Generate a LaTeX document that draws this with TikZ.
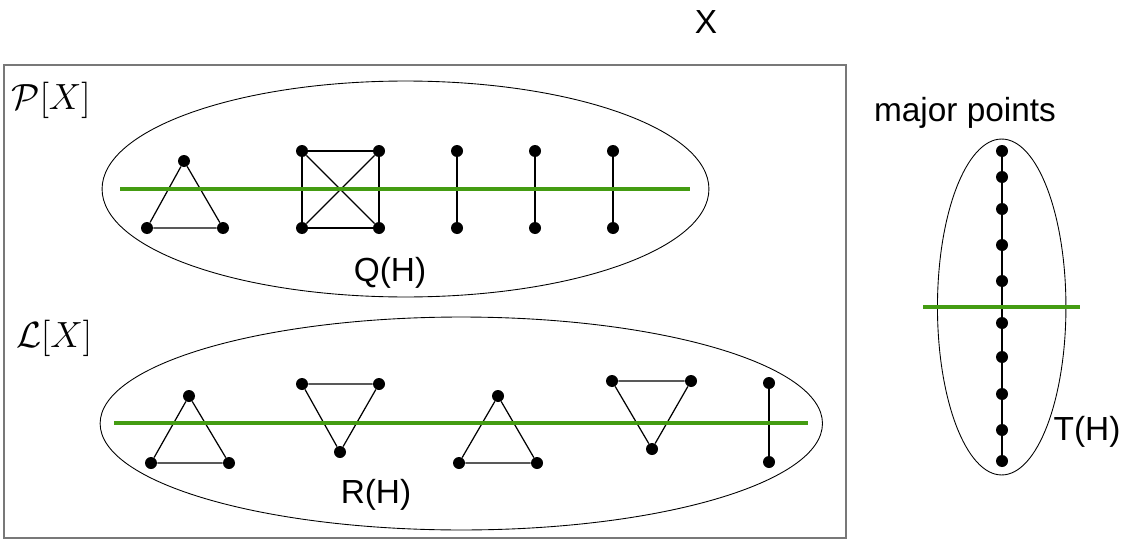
\documentclass[tikz,border=0pt]{standalone}
\usepackage{amsmath}
\usepackage{fontspec}
\setmainfont{Liberation Sans}
\usepackage{tikz}
\usetikzlibrary{positioning, shapes.geometric}
\definecolor{cutgreen}{RGB}{68,156,18}
\definecolor{framegray}{RGB}{120,120,120}

\begin{document}
\begin{tikzpicture}[
    x=0.02cm, y=-0.02cm,
    vtx/.style={circle, fill=black, inner sep=0pt, minimum size=0.24cm},
    link/.style={line width=0.7pt},
    cut/.style={cutgreen, line width=1.8pt},
    region/.style={ellipse, draw, line width=0.5pt, inner sep=0pt},
    lbl/.style={font=\fontsize{19}{22}\selectfont},
    mlbl/.style={font=\fontsize{21}{24}\selectfont}
]
    \useasboundingbox (0,0) rectangle (1126,541);
    \draw[framegray, line width=0.8pt] (4,65) rectangle (846,538);
    \node[lbl] (xlabel) at (706,22) {X};
    \node[mlbl] (plabel) at (51,100) {$\mathcal{P}[X]$};
    \node[mlbl] (llabel) at (54,338) {$\mathcal{L}[X]$};
    \node[region, minimum width=12.14cm, minimum height=4.32cm] (qset) at (405.5,189) {};
    \node[region, minimum width=14.45cm, minimum height=4.26cm] (rset) at (461.3,423.5) {};
    \node[region, minimum width=2.57cm, minimum height=6.72cm] (tset) at (1001.7,307) {};
    \node[lbl] (qlabel) at (390,273) {Q(H)};
    \node[lbl] (rlabel) at (376,495) {R(H)};
    \node[lbl] (tlabel) at (1087,432) {T(H)};
    \node[lbl] (major) at (965,113) {major points};
    \node[vtx] (a1) at (184,161) {};
    \node[vtx] (a2) at (147,228) {};
    \node[vtx] (a3) at (223,228) {};
    \node[vtx] (b1) at (302,151) {};
    \node[vtx] (b2) at (379,151) {};
    \node[vtx] (b3) at (302,228) {};
    \node[vtx] (b4) at (379,228) {};
    \node[vtx] (c1) at (457,151) {};
    \node[vtx] (c2) at (457,228) {};
    \node[vtx] (d1) at (535,151) {};
    \node[vtx] (d2) at (535,228) {};
    \node[vtx] (e1) at (613,151) {};
    \node[vtx] (e2) at (613,228) {};
    \node[vtx] (f1) at (189,396) {};
    \node[vtx] (f2) at (151,463) {};
    \node[vtx] (f3) at (229,463) {};
    \node[vtx] (g1) at (302,384) {};
    \node[vtx] (g2) at (379,384) {};
    \node[vtx] (g3) at (340,452) {};
    \node[vtx] (h1) at (498,396) {};
    \node[vtx] (h2) at (459,463) {};
    \node[vtx] (h3) at (537,463) {};
    \node[vtx] (i1) at (612,381) {};
    \node[vtx] (i2) at (691,381) {};
    \node[vtx] (i3) at (652,449) {};
    \node[vtx] (j1) at (769,383) {};
    \node[vtx] (j2) at (769,462) {};
    \foreach \y [count=\k] in {151,177,209,245,281,323,357,394,430,461}
        \node[vtx] (m\k) at (1002,\y) {};
    \draw[link] (a1) -- (a2) -- (a3) -- (a1);
    \draw[link] (b1) -- (b2) -- (b4) -- (b3) -- (b1);
    \draw[link] (b1) -- (b4);
    \draw[link] (b2) -- (b3);
    \draw[link] (c1) -- (c2);
    \draw[link] (d1) -- (d2);
    \draw[link] (e1) -- (e2);
    \draw[link] (f1) -- (f2) -- (f3) -- (f1);
    \draw[link] (g1) -- (g2) -- (g3) -- (g1);
    \draw[link] (h1) -- (h2) -- (h3) -- (h1);
    \draw[link] (i1) -- (i2) -- (i3) -- (i1);
    \draw[link] (j1) -- (j2);
    \draw[link] (m1) -- (m10);
    \coordinate (qcutl) at (120,189);
    \coordinate (qcutr) at (690,189);
    \coordinate (rcutl) at (114,423);
    \coordinate (rcutr) at (808,423);
    \coordinate (tcutl) at (923,307);
    \coordinate (tcutr) at (1080,307);
    \draw[cut] (qcutl) -- (qcutr);
    \draw[cut] (rcutl) -- (rcutr);
    \draw[cut] (tcutl) -- (tcutr);
\end{tikzpicture}
\end{document}
